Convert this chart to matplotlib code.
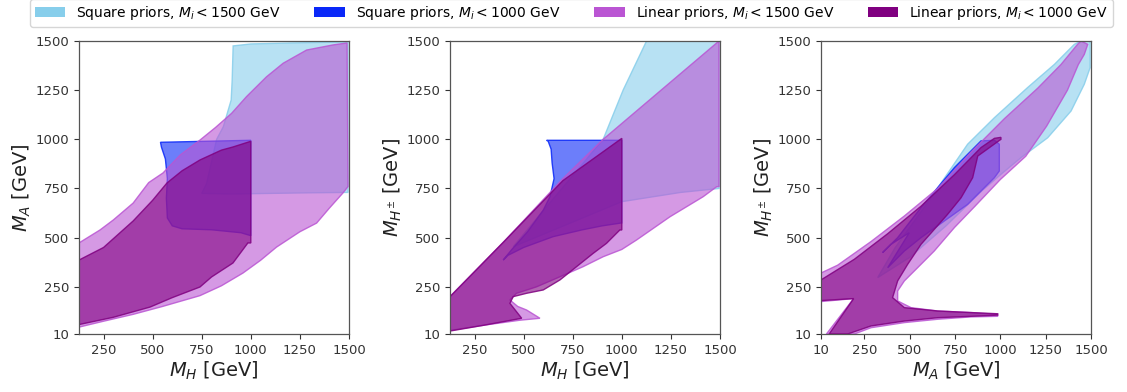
import matplotlib
matplotlib.use("Agg")
import matplotlib.pyplot as plt
from matplotlib.patches import Patch

# ---------------- data (boundary points of the allowed regions, GeV) ----------------
# Panel 1: M_H (x) vs M_A (y)
p1_sq1500_x = [750, 775, 826, 860, 900, 905, 910, 1000, 1200, 1495, 1495, 1300, 1100, 900, 750]
p1_sq1500_y = [725, 776, 1000, 1064, 1200, 1300, 1475, 1485, 1490, 1495, 730, 728, 725, 722, 725]

p1_sq1000_x = [540, 1000, 1000, 950, 800, 650, 600, 575, 570, 575, 565, 545]
p1_sq1000_y = [985, 995, 510, 525, 540, 545, 560, 600, 700, 800, 900, 960]

p1_lin1500_x = [125, 232, 300, 401, 480, 553, 640, 741, 820, 902, 978, 1080, 1165, 1284, 1419, 1490,
                1495, 1469, 1400, 1335, 1250, 1131, 1050, 960, 850, 741, 550, 401, 250, 125]
p1_lin1500_y = [473, 539, 590, 676, 780, 829, 920, 996, 1060, 1132, 1217, 1318, 1387, 1454, 1480, 1490,
                760, 727, 650, 574, 530, 452, 385, 320, 255, 205, 150, 110, 75, 45]

p1_lin1000_x = [125, 250, 401, 500, 573, 650, 741, 850, 909, 1000, 1000, 985, 909, 800, 741, 600, 487, 300, 125]
p1_lin1000_y = [386, 450, 585, 690, 778, 840, 895, 945, 961, 990, 473, 473, 371, 300, 249, 195, 147, 95, 58]

# Panel 2: M_H (x) vs M_H+- (y)
p2_sq1500_x = [1126, 1495, 1495, 1300, 1000, 800, 600, 447, 600, 750, 905, 1007, 1126]
p2_sq1500_y = [1500, 1500, 750, 730, 683, 600, 517, 454, 637, 815, 1000, 1251, 1500]

p2_sq1000_x = [617, 1000, 1000, 900, 800, 650, 500, 420, 396, 440, 520, 600, 634, 655, 645, 640, 625]
p2_sq1000_y = [995, 995, 575, 560, 540, 505, 450, 410, 386, 440, 530, 640, 708, 800, 880, 950, 990]

p2_lin1500_x = [125, 400, 700, 905, 1200, 1495, 1495, 1483, 1414, 1245, 1075, 1000, 905, 802, 685, 566,
                464, 430, 470, 515, 583, 480, 300, 125]
p2_lin1500_y = [200, 480, 800, 1000, 1250, 1500, 760, 759, 708, 606, 488, 440, 403, 352, 301, 250,
                217, 183, 150, 132, 90, 80, 55, 28]

p2_lin1000_x = [125, 400, 700, 1000, 1000, 990, 922, 854, 769, 685, 600, 515, 447, 430, 464, 490, 300, 125]
p2_lin1000_y = [200, 480, 790, 1005, 539, 539, 471, 420, 352, 285, 234, 217, 200, 166, 123, 90, 55, 25]

# Panel 3: M_A (x) vs M_H+- (y)
p3_sq1500_x = [323, 420, 600, 819, 967, 1150, 1298, 1408, 1445, 1495, 1495, 1463, 1390, 1261, 1114,
               1003, 900, 700, 500]
p3_sq1500_y = [297, 450, 680, 975, 1110, 1263, 1381, 1483, 1500, 1500, 1364, 1280, 1144, 1008, 907,
               822, 740, 560, 400]

p3_sq1000_x = [350, 433, 562, 746, 893, 967, 994, 994, 967, 819, 691, 562, 470, 378, 497, 396]
p3_sq1000_y = [424, 500, 653, 856, 992, 995, 975, 839, 805, 669, 585, 500, 432, 347, 525, 466]

p3_lin1500_x = [10, 102, 286, 470, 654, 838, 1022, 1206, 1334, 1426, 1445, 1482, 1463, 1430, 1370, 1255,
                1140, 1000, 860, 746, 635, 543, 470, 433, 433, 507, 654, 838, 985, 985, 838, 654, 470,
                286, 194, 40, 190, 10]
p3_lin1500_y = [320, 360, 480, 610, 750, 935, 1105, 1260, 1380, 1483, 1500, 1483, 1432, 1380, 1250, 1067,
                914, 796, 660, 551, 432, 347, 280, 229, 178, 144, 127, 119, 110, 100, 97, 85, 68,
                42, 10, 10, 190, 175]

p3_lin1000_x = [10, 194, 378, 562, 746, 893, 967, 1003, 1003, 875, 847, 783, 709, 562, 488, 433, 405,
                470, 654, 838, 985, 985, 838, 654, 470, 286, 157, 55, 190, 10]
p3_lin1000_y = [285, 390, 520, 660, 820, 958, 1005, 1010, 1000, 915, 805, 703, 619, 466, 364, 280, 195,
                144, 127, 119, 113, 106, 100, 93, 76, 51, 10, 10, 190, 180]

series_labels = [r"Square priors, $M_i < 1500$ GeV", r"Square priors, $M_i < 1000$ GeV",
                 r"Linear priors, $M_i < 1500$ GeV", r"Linear priors, $M_i < 1000$ GeV"]
series_colors = ["#87CEEB", "#0A28F8", "#BA55D3", "#800080"]

x_labels = [r"$M_H$ [GeV]", r"$M_H$ [GeV]", r"$M_A$ [GeV]"]
y_labels = [r"$M_A$ [GeV]", r"$M_{H^{\pm}}$ [GeV]", r"$M_{H^{\pm}}$ [GeV]"]
x_mins = [125, 125, 10]
x_ticks = [[250, 500, 750, 1000, 1250, 1500], [250, 500, 750, 1000, 1250, 1500],
           [10, 250, 500, 750, 1000, 1250, 1500]]
y_ticks = [10, 250, 500, 750, 1000, 1250, 1500]

panels = [
    [(p1_sq1500_x, p1_sq1500_y), (p1_sq1000_x, p1_sq1000_y), (p1_lin1500_x, p1_lin1500_y), (p1_lin1000_x, p1_lin1000_y)],
    [(p2_sq1500_x, p2_sq1500_y), (p2_sq1000_x, p2_sq1000_y), (p2_lin1500_x, p2_lin1500_y), (p2_lin1000_x, p2_lin1000_y)],
    [(p3_sq1500_x, p3_sq1500_y), (p3_sq1000_x, p3_sq1000_y), (p3_lin1500_x, p3_lin1500_y), (p3_lin1000_x, p3_lin1000_y)],
]

# ---------------- figure ----------------
fig = plt.figure(figsize=(11.27, 3.92), dpi=100)
lefts = [79 / 1127, 450 / 1127, 821 / 1127]
ax_w, ax_h = 270 / 1127, 293 / 392
ax_b = 58 / 392

for i, left in enumerate(lefts):
    ax = fig.add_axes([left, ax_b, ax_w, ax_h])
    for (xs, ys), col in zip(panels[i], series_colors):
        ax.fill(xs, ys, facecolor=col, alpha=0.6, edgecolor="none", zorder=2)
        ax.fill(xs, ys, facecolor="none", edgecolor=col, alpha=0.85, linewidth=1.0, zorder=2)
    ax.set_xlim(x_mins[i], 1500)
    ax.set_ylim(10, 1500)
    ax.set_xticks(x_ticks[i])
    ax.set_yticks(y_ticks)
    ax.tick_params(labelsize=9.5, colors="#333333", length=3.5, width=0.8)
    for sp in ax.spines.values():
        sp.set_color("#555555")
        sp.set_linewidth(0.9)
    ax.set_xlabel(x_labels[i], fontsize=14, labelpad=2, color="#222222")
    ax.set_ylabel(y_labels[i], fontsize=14, labelpad=2, color="#222222")

handles = [Patch(facecolor=c, edgecolor="none") for c in series_colors]
fig.legend(handles, series_labels, loc="upper center", bbox_to_anchor=(0.507, 1.02), ncol=4,
           fontsize=10, columnspacing=2.4, handlelength=2.2, handletextpad=0.8,
           frameon=True, fancybox=True, edgecolor="#cccccc", borderpad=0.35)

fig.savefig("out.png", dpi=100)
